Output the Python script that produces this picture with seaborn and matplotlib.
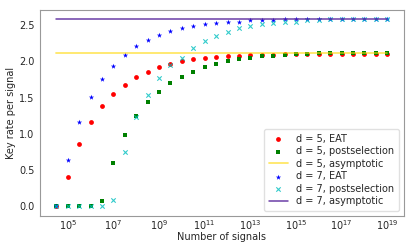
import numpy as np
import pandas as pd
import matplotlib
matplotlib.use("Agg")
import matplotlib.pyplot as plt
import seaborn as sns

sns.set_style("white")
plt.rcParams["font.family"] = ["DejaVu Sans"]
plt.rcParams["font.size"] = 7

# exponents of the number of signals, 10^4.5 ... 10^19 in half decades
exps = [4.5, 5, 5.5, 6, 6.5, 7, 7.5, 8, 8.5, 9, 9.5, 10, 10.5, 11, 11.5, 12,
        12.5, 13, 13.5, 14, 14.5, 15, 15.5, 16, 16.5, 17, 17.5, 18, 18.5, 19]

d5_eat = [0.0, 0.40, 0.86, 1.17, 1.39, 1.55, 1.68, 1.78, 1.86, 1.92, 1.97, 2.00,
          2.03, 2.05, 2.06, 2.07, 2.08, 2.09, 2.09, 2.09, 2.10, 2.10, 2.10, 2.10,
          2.10, 2.10, 2.10, 2.10, 2.10, 2.10]
d5_post = [0.0, 0.0, 0.0, 0.0, 0.07, 0.60, 0.99, 1.25, 1.44, 1.58, 1.70, 1.78,
           1.86, 1.92, 1.96, 2.00, 2.03, 2.05, 2.07, 2.08, 2.09, 2.10, 2.10, 2.11,
           2.11, 2.11, 2.11, 2.11, 2.11, 2.11]
d5_asym = 2.113

d7_eat = [0.0, 0.64, 1.16, 1.51, 1.76, 1.94, 2.09, 2.21, 2.29, 2.37, 2.42, 2.46,
          2.49, 2.51, 2.53, 2.54, 2.55, 2.57, 2.57, 2.57, 2.58, 2.58, 2.58, 2.58,
          2.58, 2.58, 2.58, 2.58, 2.58, 2.58]
d7_post = [0.0, 0.0, 0.0, 0.0, 0.0, 0.09, 0.75, 1.23, 1.54, 1.77, 1.95, 2.05,
           2.19, 2.28, 2.35, 2.41, 2.46, 2.49, 2.51, 2.53, 2.54, 2.55, 2.57, 2.57,
           2.58, 2.58, 2.58, 2.58, 2.58, 2.58]
d7_asym = 2.585

n = np.power(10.0, exps)

fig, ax = plt.subplots(figsize=(4.15, 2.49), dpi=100)
fig.subplots_adjust(left=0.096, right=0.973, top=0.96, bottom=0.133)

sns.scatterplot(x=n, y=d5_eat, color="red", marker="o", s=12, linewidth=0,
                label="d = 5, EAT", ax=ax)
sns.scatterplot(x=n, y=d5_post, color="green", marker="s", s=12, linewidth=0,
                label="d = 5, postselection", ax=ax)
sns.lineplot(x=n, y=[d5_asym] * len(n), color="gold", alpha=0.6, linewidth=1.3,
             label="d = 5, asymptotic", ax=ax)
sns.scatterplot(x=n, y=d7_eat, color="blue", marker="*", s=16, linewidth=0,
                label="d = 7, EAT", ax=ax)
sns.scatterplot(x=n, y=d7_post, color="c", marker="x", s=10, linewidth=0.8,
                alpha=0.8, label="d = 7, postselection", ax=ax)
sns.lineplot(x=n, y=[d7_asym] * len(n), color="#5b2a9e", alpha=0.9, linewidth=1.1,
             label="d = 7, asymptotic", ax=ax)

ax.set_xscale("log")
ax.set_xticks([10.0 ** k for k in range(5, 20, 2)])
ax.minorticks_off()
ax.set_yticks([0.0, 0.5, 1.0, 1.5, 2.0, 2.5])
ax.set_ylim(-0.13, 2.71)
ax.tick_params(axis="y", length=2, width=0.6, pad=2, labelsize=7)
ax.tick_params(axis="x", length=0, pad=2, labelsize=7)
ax.set_xlabel("Number of signals", fontsize=7, labelpad=0)
ax.set_ylabel("Key rate per signal", fontsize=7, labelpad=2)
for sp in ax.spines.values():
    sp.set_color("0.6")
    sp.set_linewidth(0.8)

leg = ax.legend(loc="lower right", fontsize=7, frameon=True, handletextpad=0.8,
                labelspacing=0.25, borderaxespad=0.5, borderpad=0.5)
leg.get_frame().set_edgecolor("0.85")

fig.savefig("out.png", dpi=100)
